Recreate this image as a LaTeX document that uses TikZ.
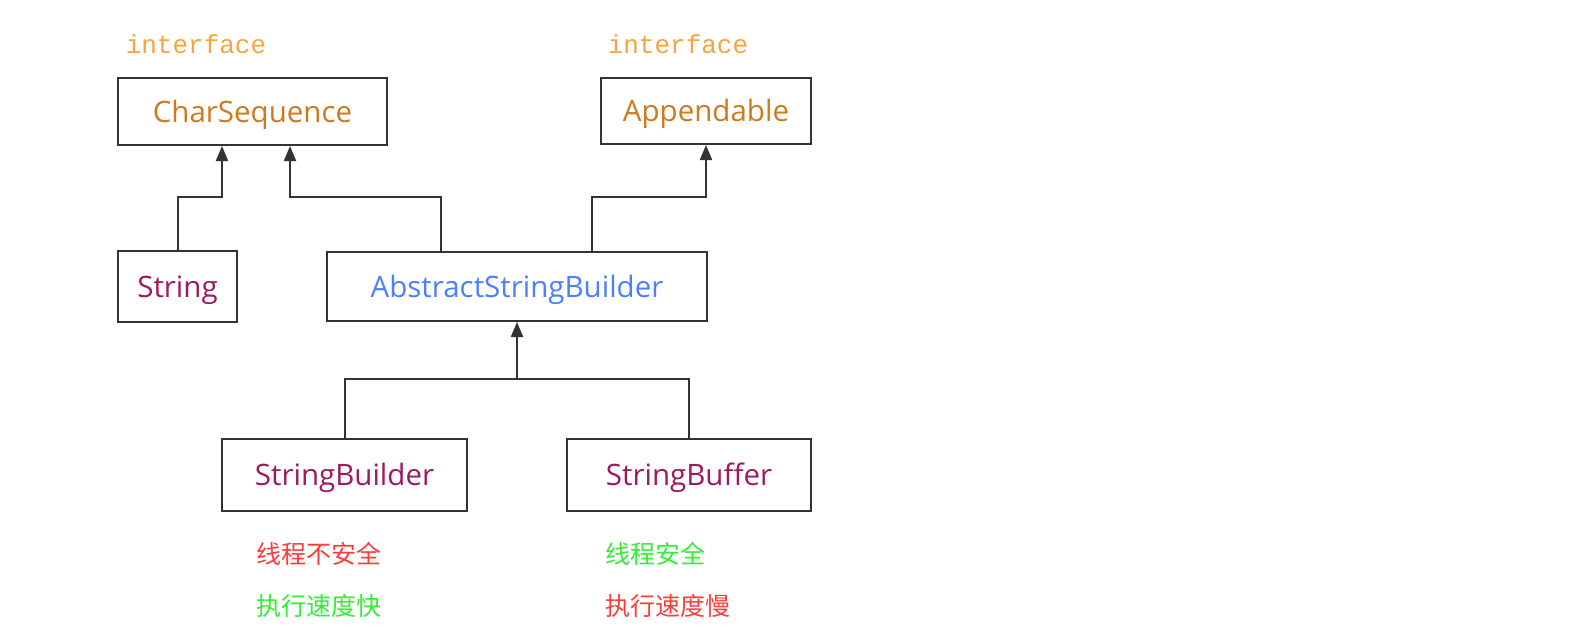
\documentclass[tikz,border=0pt]{standalone}
\usepackage{fontspec}
\usetikzlibrary{arrows.meta,calc}
\newfontfamily\boxfont{Open Sans}
\newfontfamily\ifmono{Liberation Mono}
\newfontfamily\cjk{Noto Sans CJK SC}
\definecolor{ifcol}{HTML}{F5A540}
\definecolor{seqcol}{HTML}{CC7A1E}
\definecolor{strcol}{HTML}{9E1A5E}
\definecolor{abscol}{HTML}{4C80FF}
\definecolor{redtxt}{HTML}{FF3B3B}
\definecolor{greentxt}{HTML}{33EE33}
\definecolor{edge}{HTML}{333333}
\tikzset{
  cls/.style={draw=edge, line width=2pt, inner sep=0pt, text height=21pt, text depth=0pt,
    font=\boxfont\fontsize{29.5}{34}\selectfont},
  iflabel/.style={text=ifcol, inner sep=0pt, font=\ifmono\fontsize{26}{30}\selectfont},
  note/.style={inner sep=0pt, anchor=west, font=\cjk\fontsize{25}{29}\selectfont},
  link/.style={draw=edge, line width=2pt},
  arr/.style={link, -{Triangle[length=15pt,width=12pt]}},
}
\begin{document}
\begin{tikzpicture}[x=1pt,y=-1pt]
\useasboundingbox (0,0) rectangle (1585,638);
\node[iflabel] (if1) at (196,44) {interface};
\node[iflabel] (if2) at (678,44) {interface};
\node[cls, minimum width=269pt, minimum height=67pt, text=seqcol] (cs) at (252.5,111.5) {CharSequence};
\node[cls, minimum width=210pt, minimum height=66pt, text=seqcol] (app) at (706,111) {Appendable};
\node[cls, minimum width=119pt, minimum height=71pt, text=strcol] (str) at (177.5,286.5) {String};
\node[cls, minimum width=380pt, minimum height=69pt, text=abscol] (asb) at (517,286.5) {AbstractStringBuilder};
\node[cls, minimum width=245pt, minimum height=72pt, text=strcol] (sb) at (344.5,475) {StringBuilder};
\node[cls, minimum width=244pt, minimum height=72pt, text=strcol] (sbuf) at (689,475) {StringBuffer};
\node[note, text=redtxt] (n1) at (256,554) {线程不安全};
\node[note, text=greentxt] (n2) at (256,606) {执行速度快};
\node[note, text=greentxt] (n3) at (605,554) {线程安全};
\node[note, text=redtxt] (n4) at (605,606) {执行速度慢};
\draw[arr] (str.north) -- ++(0,-53) -| ([xshift=-30.5pt]cs.south);
\draw[arr] ([xshift=-76pt]asb.north) -- ++(0,-54) -| ([xshift=37.5pt]cs.south);
\draw[arr] ([xshift=75pt]asb.north) -- ++(0,-54) -| (app.south);
\coordinate (jn) at ($(sb.north)+(0,-59)$);
\draw[link] (sb.north) -- (jn) -| (sbuf.north);
\draw[arr] (jn -| asb.south) -- (asb.south);
\end{tikzpicture}
\end{document}
